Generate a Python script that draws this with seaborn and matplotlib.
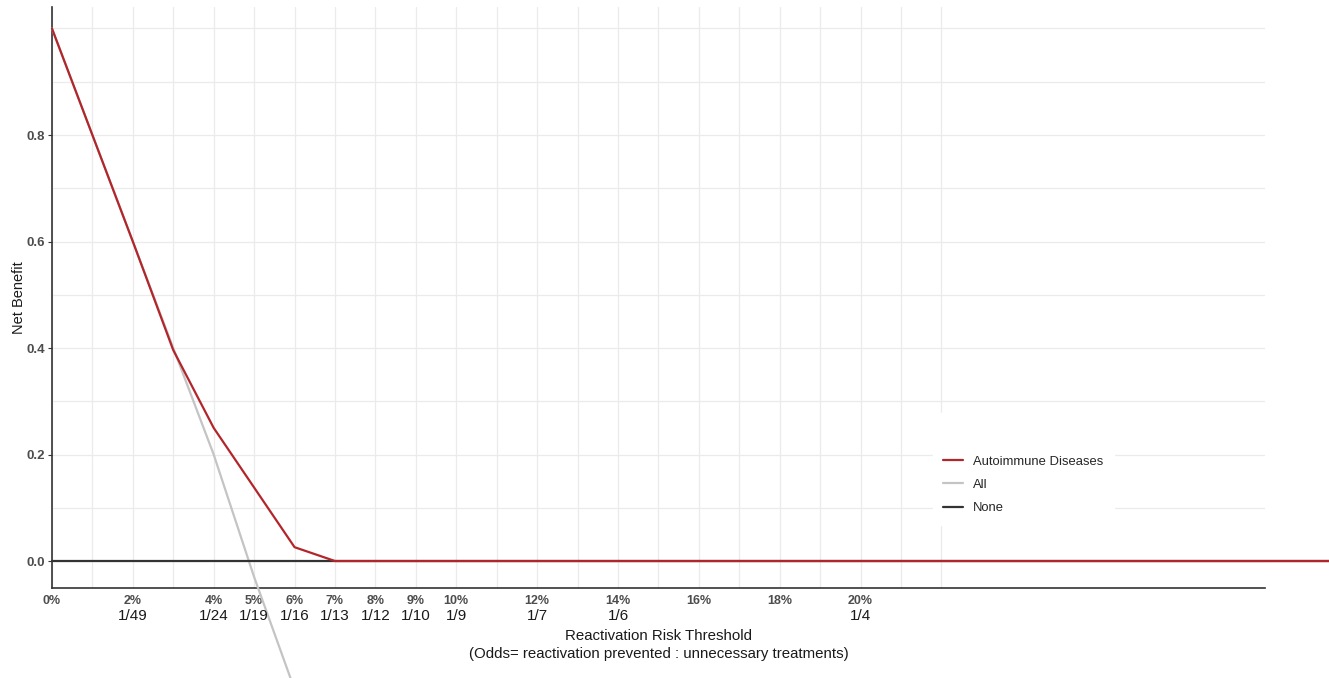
import matplotlib
matplotlib.use('Agg')
import matplotlib.pyplot as plt
import seaborn as sns
import pandas as pd

# threshold (%) and net benefit
model_x = [0, 1, 2, 3, 4, 5, 6, 7, 32]
model_nb = [1.0, 0.8, 0.6, 0.396, 0.25, 0.138, 0.026, 0.0, 0.0]

all_x = [0, 1, 2, 3, 4, 5, 5.9, 6.5]
all_nb = [1.0, 0.8, 0.6, 0.4, 0.2, -0.03, -0.22, -0.345]

none_x = [0, 32]
none_nb = [0.0, 0.0]

pct_ticks = [0, 2, 4, 5, 6, 7, 8, 9, 10, 12, 14, 16, 18, 20]
odds_ticks = [2, 4, 5, 6, 7, 8, 9, 10, 12, 14, 20]
odds_labels = ['1/49', '1/24', '1/19', '1/16', '1/13', '1/12', '1/10', '1/9', '1/7', '1/6', '1/4']
grid_x = list(range(0, 23))
y_ticks = [0.0, 0.2, 0.4, 0.6, 0.8]
grid_y = [0.0, 0.1, 0.2, 0.3, 0.4, 0.5, 0.6, 0.7, 0.8, 0.9, 1.0]

colors = {'Autoimmune Diseases': '#b2262b', 'All': '#c4c4c4', 'None': '#333333'}

df = pd.concat([
    pd.DataFrame({'threshold': all_x, 'nb': all_nb, 'curve': 'All'}),
    pd.DataFrame({'threshold': none_x, 'nb': none_nb, 'curve': 'None'}),
    pd.DataFrame({'threshold': model_x, 'nb': model_nb, 'curve': 'Autoimmune Diseases'}),
])

sns.set_theme(style='white')
plt.rcParams['font.family'] = ['Liberation Sans', 'DejaVu Sans']

fig = plt.figure(figsize=(13.29, 6.78), dpi=100)
ax = fig.add_axes([0.0391, 0.1327, 0.9127, 0.8570])

sns.lineplot(data=df, x='threshold', y='nb', hue='curve',
             hue_order=['All', 'None', 'Autoimmune Diseases'],
             palette=colors, linewidth=1.6, clip_on=False, legend=False,
             estimator=None, sort=False, ax=ax, zorder=3)

ax.set_xlim(0, 30)
ax.set_ylim(-0.0507, 1.0404)

ax.set_xticks(pct_ticks)
ax.set_xticklabels([f'{t}%' for t in pct_ticks], fontweight='bold', fontsize=9, color='#4d4d4d')
ax.set_xticks(grid_x, minor=True)
ax.set_yticks(y_ticks)
ax.set_yticklabels([f'{t:.1f}' for t in y_ticks], fontweight='bold', fontsize=9.5, color='#4d4d4d')
ax.set_yticks(grid_y, minor=True)

ax.tick_params(axis='x', which='both', length=0, pad=5)
ax.tick_params(axis='y', which='major', length=3, width=0.8, color='#333333', pad=2, left=True)
ax.tick_params(axis='y', which='minor', length=0)

ax.grid(False)
ax.xaxis.grid(True, which='both', color='#ebebeb', linewidth=0.9)
ax.yaxis.grid(True, which='both', color='#ebebeb', linewidth=0.9)
ax.set_axisbelow(True)

for side in ['top', 'right']:
    ax.spines[side].set_visible(False)
for side in ['left', 'bottom']:
    ax.spines[side].set_color('#333333')
    ax.spines[side].set_linewidth(1.2)

# odds labels under the percentage ticks
for t, lab in zip(odds_ticks, odds_labels):
    ax.text(t, -0.0475, lab, transform=ax.get_xaxis_transform(),
            ha='center', va='center', fontsize=11, color='#1a1a1a')

ax.set_xlabel('Reactivation Risk Threshold\n(Odds= reactivation prevented : unnecessary treatments)',
              fontsize=10.8, color='#1a1a1a', linespacing=1.3)
ax.xaxis.set_label_coords(0.5, -0.071)
ax.set_ylabel('Net Benefit', fontsize=10.5, color='#1a1a1a')
ax.yaxis.set_label_coords(-0.021, 0.5)

handles = [plt.Line2D([], [], color=colors[k], linewidth=1.6) for k in ['Autoimmune Diseases', 'All', 'None']]
leg = ax.legend(handles, ['Autoimmune Diseases', 'All', 'None'], title=' ',
                loc='upper left', bbox_to_anchor=(933 / 1329, 1 - 413 / 678),
                bbox_transform=fig.transFigure, fontsize=9.4, title_fontsize=16,
                frameon=True, fancybox=False, framealpha=1, facecolor='white',
                edgecolor='white', handlelength=1.5, handletextpad=0.75,
                labelspacing=0.85, borderpad=0.8, borderaxespad=0)
leg.set_zorder(2)

fig.savefig('out.png', dpi=100)
